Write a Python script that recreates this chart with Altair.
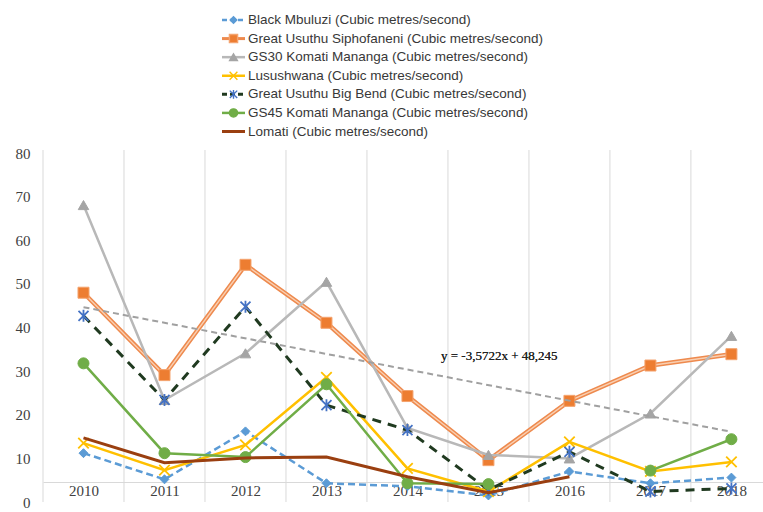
import altair as alt
import pandas as pd

# ---- data (annual mean flow, cubic metres per second) ----
years = [2010, 2011, 2012, 2013, 2014, 2015, 2016, 2017, 2018]

black_mbuluzi = [11.2, 5.2, 16.2, 4.3, 3.6, 1.5, 7.0, 4.3, 5.6]
great_usuthu_siphofaneni = [48.0, 29.1, 54.4, 41.1, 24.3, 9.6, 23.2, 31.3, 33.9]
gs30_komati_mananga = [68.1, 23.4, 34.1, 50.5, 17.0, 10.8, 10.0, 20.3, 38.1]
lusushwana = [13.5, 7.3, 13.1, 28.6, 7.7, 2.4, 13.8, 7.0, 9.2]
great_usuthu_big_bend = [42.7, 23.4, 44.8, 22.2, 16.5, 2.8, 11.5, 2.4, 3.1]
gs45_komati_mananga = [31.8, 11.2, 10.3, 27.0, 4.3, 4.1, None, 7.2, 14.4]
lomati = [14.7, 9.0, 10.1, 10.3, 5.8, 2.1, 5.8, None, None]

series_names = [
    "Black Mbuluzi (Cubic metres/second)",
    "Great Usuthu Siphofaneni (Cubic metres/second)",
    "GS30 Komati Mananga (Cubic metres/second)",
    "Lusushwana (Cubic metres/second)",
    "Great Usuthu Big Bend (Cubic metres/second)",
    "GS45 Komati Mananga  (Cubic metres/second)",
    "Lomati (Cubic metres/second)",
]
series_values = [
    black_mbuluzi,
    great_usuthu_siphofaneni,
    gs30_komati_mananga,
    lusushwana,
    great_usuthu_big_bend,
    gs45_komati_mananga,
    lomati,
]

# linear trend line as stated on the chart (x = 1 .. 9 for 2010 .. 2018)
trend_slope = -3.5722
trend_intercept = 48.245
trend_label = "y = -3,5722x + 48,245"

# ---- styling ----
SERIF = "Liberation Serif"
SANS = "Liberation Sans"
GRID = "#d9d9d9"
TEXT = "#404040"

X_SHAPE = "M-1,-1L1,1M1,-1L-1,1"
STAR_SHAPE = "M-1,-1L1,1M1,-1L-1,1M0,-1.2L0,1.2"

styles = [
    dict(color="#5b9bd5", width=2.5, dash=[7, 4], shape="diamond", size=80,
         mfill="#5b9bd5", mstroke="#5b9bd5", filled=True),
    dict(color="#ee8a4e", width=4.5, dash=None, inner="#f9cfb1", shape="square", size=121,
         mfill="#ed7d31", mstroke="#f4a36e", filled=True),
    dict(color="#b8b8b8", width=2.5, dash=None, shape="triangle-up", size=110,
         mfill="#a5a5a5", mstroke="#a5a5a5", filled=True),
    dict(color="#ffc000", width=2.5, dash=None, shape=X_SHAPE, size=110,
         mfill=None, mstroke="#ffc000", filled=False),
    dict(color="#203a20", width=3, dash=[9, 7], shape=STAR_SHAPE, size=100,
         mfill=None, mstroke="#4472c4", filled=False),
    dict(color="#70ad47", width=2.5, dash=None, shape="circle", size=121,
         mfill="#70ad47", mstroke="#70ad47", filled=True),
    dict(color="#9a3f10", width=3, dash=None, shape=None),
]

PLOT_W, PLOT_H = 720, 352
Y_MAX = 80.73
x_scale = alt.Scale(domain=[2009.5, 2018.39], nice=False, zero=False)
y_scale = alt.Scale(domain=[0, Y_MAX], nice=False, zero=True)

x_axis = alt.Axis(
    values=years, format="d", title=None, grid=False, ticks=False,
    domain=True, domainColor=GRID, domainWidth=1, offset=-20,
    labelFont=SERIF, labelFontSize=15, labelColor=TEXT, labelPadding=1,
    labelFlush=False, labelOverlap=False,
)
y_axis = alt.Axis(
    values=list(range(0, 81, 10)), title=None, grid=False, ticks=False,
    domain=False, labelFont=SERIF, labelFontSize=15, labelColor=TEXT,
    labelPadding=13,
)

X = alt.X("year:Q", scale=x_scale, axis=x_axis)
Y = alt.Y("value:Q", scale=y_scale, axis=y_axis)

# vertical category separators
grid_df = pd.DataFrame({"year": [y - 0.5 for y in years]})
grid_layer = alt.Chart(grid_df).mark_rule(color=GRID, strokeWidth=1).encode(
    x=X, y=alt.value(0), y2=alt.value(PLOT_H)
)

main_layers = [grid_layer]
for name, values, st in zip(series_names, series_values, styles):
    df = pd.DataFrame({"year": years, "value": [float("nan") if v is None else v for v in values]})
    line_kw = dict(color=st["color"], strokeWidth=st["width"],
                   invalid="break-paths-show-domains", strokeJoin="miter")
    if st["dash"]:
        line_kw["strokeDash"] = st["dash"]
    main_layers.append(alt.Chart(df).mark_line(**line_kw).encode(x=X, y=Y))
    if st.get("inner"):
        main_layers.append(
            alt.Chart(df).mark_line(color=st["inner"], strokeWidth=1.4,
                                    invalid="break-paths-show-domains").encode(x=X, y=Y)
        )
    if st["shape"]:
        pts = df.dropna()
        pkw = dict(shape=st["shape"], size=st["size"], filled=st["filled"],
                   stroke=st["mstroke"], opacity=1)
        if st["filled"]:
            pkw["fill"] = st["mfill"]
            pkw["strokeWidth"] = 1
        else:
            pkw["strokeWidth"] = 1.8
        main_layers.append(alt.Chart(pts).mark_point(**pkw).encode(x=X, y=Y))

trend_df = pd.DataFrame({
    "year": [years[0], years[-1]],
    "value": [trend_slope * 1 + trend_intercept, trend_slope * len(years) + trend_intercept],
})
main_layers.append(
    alt.Chart(trend_df).mark_line(color="#a0a0a0", strokeWidth=2, strokeDash=[6, 4]).encode(x=X, y=Y)
)
main_layers.append(
    alt.Chart(trend_df).mark_text(
        text=trend_label, font=SERIF, fontSize=13, color="#222222",
        align="left", baseline="middle",
    ).encode(x=alt.value(398), y=alt.value(206))
)

main = alt.layer(*main_layers)

# ---- legend above the plot ----
legend_df = pd.DataFrame({"series": series_names})
LY = alt.Y(
    "series:N",
    scale=alt.Scale(type="point", domain=series_names, range=[-130, -18.5], padding=0),
    axis=None,
)
legend_layers = []
for name, st in zip(series_names, styles):
    one = legend_df[legend_df["series"] == name]
    rkw = dict(color=st["color"], strokeWidth=min(st["width"], 3))
    if st["dash"]:
        rkw["strokeDash"] = [5, 3]
    legend_layers.append(
        alt.Chart(one).mark_rule(**rkw).encode(x=alt.value(179), x2=alt.value(202), y=LY)
    )
    if st["shape"]:
        pkw = dict(shape=st["shape"], size=st["size"] * 0.55, filled=st["filled"],
                   stroke=st["mstroke"], opacity=1, strokeWidth=1.4)
        if st["filled"]:
            pkw["fill"] = st["mfill"]
        legend_layers.append(
            alt.Chart(one).mark_point(**pkw).encode(x=alt.value(190.5), y=LY)
        )
    legend_layers.append(
        alt.Chart(one).mark_text(
            font=SANS, fontSize=13.5, color="#383838", align="left", baseline="middle"
        ).encode(x=alt.value(205), y=LY, text="series:N")
    )
legend = alt.layer(*legend_layers)

chart = (
    alt.layer(main, legend)
    .resolve_scale(y="independent")
    .properties(
        width=PLOT_W,
        height=PLOT_H,
        autosize=alt.AutoSizeParams(type="none"),
        padding={"left": 43, "top": 150, "right": 0, "bottom": 10},
        background="white",
    )
    .configure_view(stroke=None)
)

chart.save("out.html", embed_options={"renderer": "svg", "actions": False})
